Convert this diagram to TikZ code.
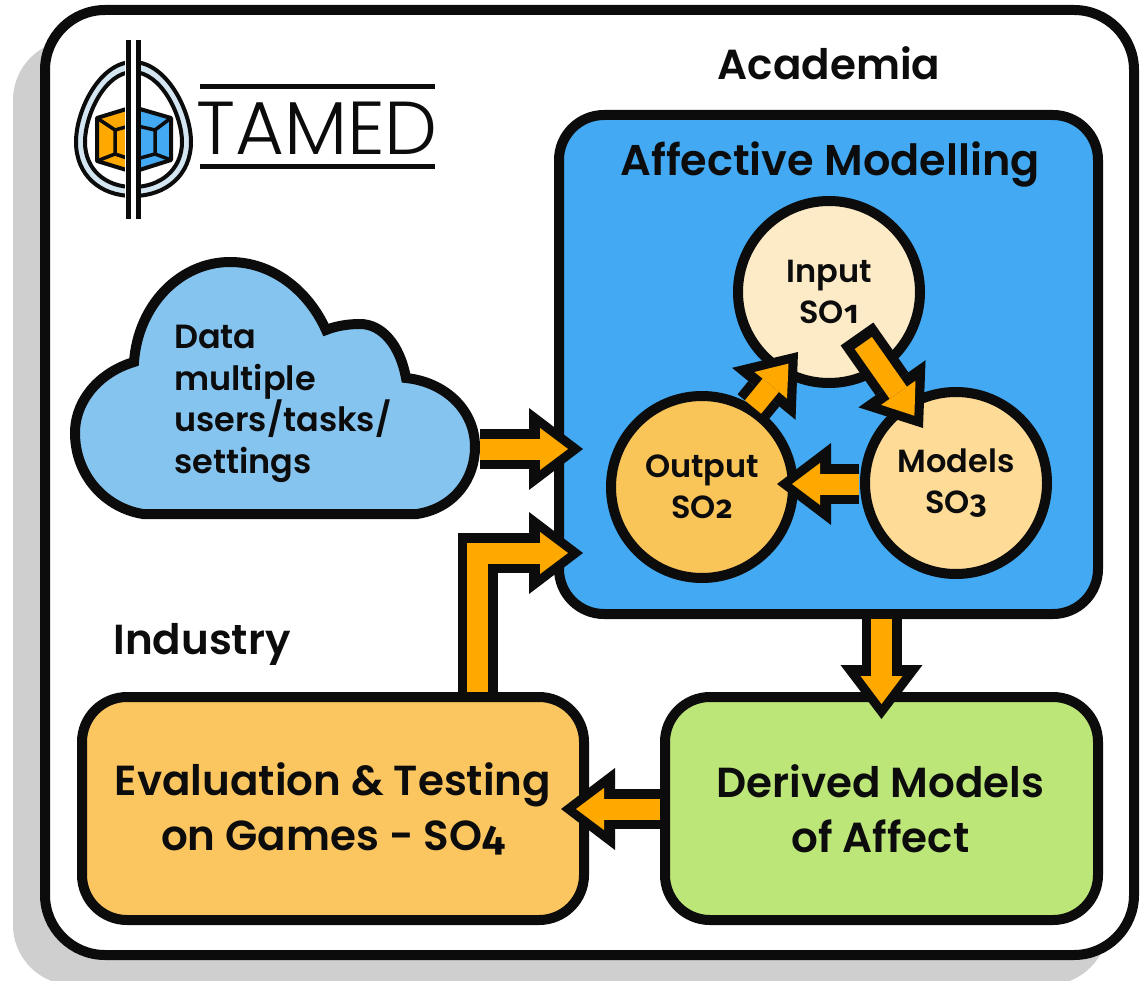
\documentclass[tikz,border=0pt]{standalone}
\usepackage{fontspec}
\setmainfont{Poppins}[BoldFont={Poppins SemiBold}]
\newfontfamily\lightface{Poppins Light}
\newfontfamily\olddigits{Fira Sans}[Numbers=OldStyle]
\usetikzlibrary{
  positioning,
  arrows.meta,
  calc
}
\definecolor{skyfill}{HTML}{42A9F2}
\definecolor{cloudfill}{HTML}{86C4F0}
\definecolor{evalfill}{HTML}{FBC65F}
\definecolor{derivedfill}{HTML}{BDE679}
\definecolor{inputfill}{HTML}{FDEBC8}
\definecolor{outputfill}{HTML}{F9C458}
\definecolor{modelsfill}{HTML}{FEDC97}
\definecolor{flowfill}{HTML}{FFA900}
\definecolor{ink}{HTML}{0C0C0C}
\definecolor{shadowgray}{HTML}{CFCFCF}
\definecolor{ringfill}{HTML}{D3E6F2}
\newcommand{\flowline}[3][]{%
  \draw[flowout] #2 #3;
  \draw[flowin, #1] #2 #3;
}
\newcommand{\sonum}[1]{SO{\olddigits\bfseries #1}}
\begin{document}
\begin{tikzpicture}[
  x=1pt, y=-1pt,
  node distance=10pt and 10pt,
  every node/.style={font=\bfseries, text=ink},
  panel/.style={draw=ink, line width=10pt, rounded corners=45pt, inner sep=0pt, outer sep=0pt, align=center},
  phase/.style={draw=ink, circle, line width=10pt, minimum size=182pt, inner sep=0pt, outer sep=0pt, align=center, font=\bfseries\fontsize{32}{41}\selectfont},
  title/.style={font=\bfseries\fontsize{42}{55}\selectfont, align=center},
  flowout/.style={draw=ink, line width=40pt, line join=miter, -{Triangle[length=54pt, width=82pt, line width=0pt]}},
  flowin/.style={draw=flowfill, line width=21pt, line join=miter, shorten >=15pt, -{Triangle[length=28pt, width=42pt, line width=0pt]}}
]
\useasboundingbox (0,0) rectangle (1145,981);

% Frame
\fill[shadowgray, rounded corners=60pt] (13,40) rectangle (1108,985);
\node[draw=ink, fill=white, line width=10pt, rounded corners=60pt, minimum width=1089pt, minimum height=945pt, inner sep=0pt, outer sep=0pt, anchor=north west] (frame) at (45,10) {};

% Academia
\node[panel, fill=skyfill, minimum width=539pt, minimum height=499pt, anchor=north west] (affect) at (559,115) {};
\node[title, font=\bfseries\fontsize{43}{55}\selectfont] (affecttitle) at (830,165) {Affective Modelling};
\node[title] (academia) at (829,63) {Academia};
\node[title] (industry) at (202,644) {Industry};

% Phases
\node[phase, fill=inputfill] (input) at (829,292) {Input\\\sonum{1}};
\node[phase, fill=outputfill] (output) at (702,487) {Output\\\sonum{2}};
\node[phase, fill=modelsfill] (models) at (956,483) {Models\\\sonum{3}};

% Lower panels
\node[panel, fill=derivedfill, minimum width=433pt, minimum height=223pt, below=83pt of affect.south east, anchor=north east] (derived) {};
\node[panel, fill=evalfill, minimum width=502pt, minimum height=223pt, left=81pt of derived] (eval) {};
\node[title] (evaltext) at (eval.center) {Evaluation \& Testing\\on Games - \sonum{4}};
\node[title, xshift=-1pt] (derivedtext) at (derived.center) {Derived Models\\of Affect};

% Cloud
\draw[draw=ink, fill=cloudfill, line width=10pt, line join=miter]
  (143,514) -- (417,514)
  .. controls (455,508) and (475,478) .. (475,447)
  .. controls (475,410) and (445,382) .. (406,378)
  .. controls (400,345) and (382,324) .. (360,324)
  .. controls (348,324) and (336,326) .. (326,330)
  .. controls (308,290) and (272,262) .. (230,262)
  .. controls (180,262) and (138,305) .. (134,362)
  .. controls (100,372) and (75,400) .. (75,433)
  .. controls (75,475) and (105,508) .. (143,514) -- cycle;
\node[anchor=north west, inner sep=0pt, align=left, font=\bfseries\fontsize{33.5}{41.7}\selectfont] (data) at (174,325) {Data\\multiple\\users/tasks/\\settings};

% Arrows
\coordinate (cloudout) at (480,449);
\coordinate (affectin) at (583,449);
\coordinate (evalout) at (477.5,692);
\coordinate (evalbend) at (477.5,553);
\coordinate (affectback) at (583,553);
\coordinate (inputout) at (857,334);
\coordinate (modelstip) at (923,428);
\coordinate (modelsout) at (859,484);
\coordinate (outputtip) at (777,484);
\coordinate (outputout) at (753,407);
\coordinate (inputtip) at (798,352);
\coordinate (affectout) at (881.5,619);
\coordinate (derivedtip) at (881.5,719);
\coordinate (derivedout) at (660,809);
\coordinate (evaltip) at (561,809);
\flowline{(cloudout)}{-- (affectin)}
\flowline{(evalout)}{-- (evalbend) -- (affectback)}
\flowline[shorten <=11pt]{(inputout)}{-- (modelstip)}
\flowline{(modelsout)}{-- (outputtip)}
\flowline{(outputout)}{-- (inputtip)}
\flowline{(affectout)}{-- (derivedtip)}
\flowline{(derivedout)}{-- (evaltip)}

% Logo
\fill[ringfill, draw=ink, line width=4pt] (133,62) .. controls (100,62) and (76,110) .. (76,142)
  .. controls (76,175) and (100,196) .. (133,196) .. controls (166,196) and (191,175) .. (191,142)
  .. controls (191,110) and (166,62) .. (133,62) -- cycle;
\fill[white, draw=ink, line width=4pt] (133,72) .. controls (105,72) and (85,115) .. (85,142)
  .. controls (85,170) and (106,187) .. (133,187) .. controls (160,187) and (182,170) .. (182,142)
  .. controls (182,115) and (161,72) .. (133,72) -- cycle;
\fill[flowfill, draw=ink, line width=4pt, line join=round] (133,107) -- (97,118) -- (97,161) -- (133,172) -- cycle;
\fill[skyfill, draw=ink, line width=4pt, line join=round] (133,107) -- (171,118) -- (171,160) -- (133,172) -- cycle;
\draw[ink, line width=3.5pt] (115,130) -- (133,125) -- (155,130) -- (155,154) -- (133,160) -- (115,154) -- cycle
  (97,118) -- (115,130) (97,161) -- (115,154) (171,118) -- (155,130) (171,160) -- (155,154);
\fill[white] (125,36) rectangle (141,222);
\draw[ink, line width=5pt] (128,40) -- (128,219) (138,40) -- (138,219);
\node[anchor=center, inner sep=0pt, font=\lightface\fontsize{75}{75}\selectfont] (tamed) at (317,128) {TAMED};
\draw[ink, line width=5pt] (200,87) -- (435,87) (200,167) -- (435,167);
\end{tikzpicture}
\end{document}
